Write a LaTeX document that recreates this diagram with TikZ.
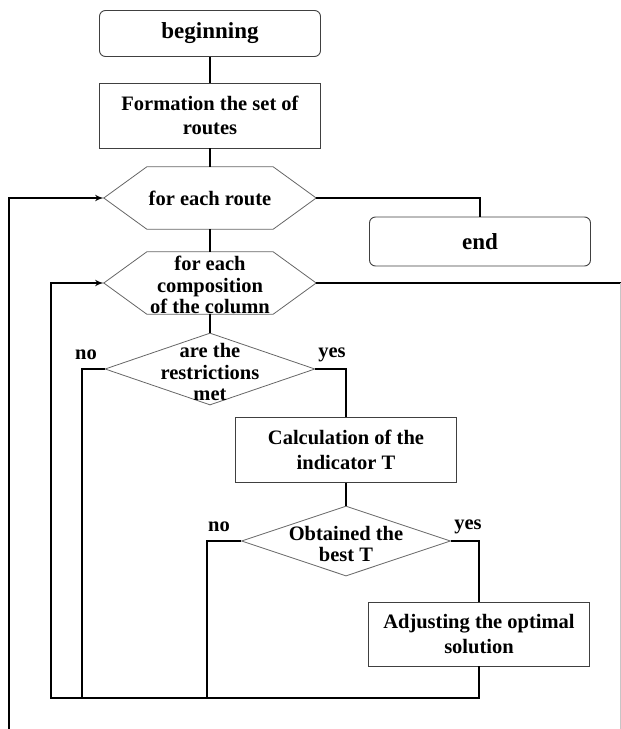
\documentclass[tikz,border=0pt]{standalone}
\usepackage{fontspec}
\setmainfont{Liberation Serif}
\usepackage{tikz}
\usetikzlibrary{shapes,arrows,positioning,calc}
\tikzset{
	block/.style = {draw=black!75, line width=0.9pt, fill=white, rectangle, minimum width=221pt, minimum height=65pt, inner sep=0pt, align=center, font=\fontsize{20.5}{24.5}\selectfont\bfseries},
	term/.style = {block, rounded corners=6pt, minimum height=46pt, font=\fontsize{23}{26}\selectfont\bfseries},
	hexa/.style = {rectangle, minimum width=212pt, minimum height=62pt, inner sep=0pt},
	decision/.style = {draw=black!60, line width=0.8pt, diamond, minimum width=210pt, minimum height=72pt, inner sep=0pt},
	txt/.style = {inner sep=0pt, align=center, font=\fontsize{20.5}{21.5}\selectfont\bfseries},
	shapeline/.style = {draw=black!60, line width=0.8pt},
	line/.style = {draw, line width=2pt}
}
\newcommand{\hexoutline}[1]{\draw[shapeline] (#1.west) -- ($(#1.north west)+(43,0)$) -- ($(#1.north east)+(-43,0)$) -- (#1.east) -- ($(#1.south east)+(-43,0)$) -- ($(#1.south west)+(43,0)$) -- cycle;}
\begin{document}
\begin{tikzpicture}[x=1pt, y=-1pt, >=latex', node distance=82pt]
\useasboundingbox (0,0) rectangle (621,729);
\node [term] at (210,33.5) (start) {beginning};
\node [block, below of=start] (form) {Formation the set of\\routes};
\node [hexa, below of=form, node distance=82.5pt] (route) {};
\hexoutline{route}
\node [txt] at (route) (routetxt) {for each route};
\node [hexa, below of=route, node distance=85pt] (column) {};
\hexoutline{column}
\node [txt] at ($(column)+(0,2)$) (columntxt) {for each\\composition\\of the column};
\node [decision, below of=column, node distance=86pt] (check) {};
\node [txt] at ($(check)+(0,3)$) (checktxt) {are the\\restrictions\\met};
\node [block] at (346,450) (calc) {Calculation of the\\indicator T};
\node [decision, below of=calc, node distance=91pt, minimum width=209pt, minimum height=70pt] (best) {};
\node [txt] at ($(best)+(0,3)$) (besttxt) {Obtained the\\best T};
\node [block, minimum height=64pt] at (479,634) (adjust) {Adjusting the optimal\\solution};
\node [term, minimum height=49pt] at (480,241.5) (end) {end};

% yes / no labels
\node [txt] at (86,355) (nocheck) {no};
\node [txt] at (332,355) (yescheck) {yes};
\node [txt] at (219,527) (nobest) {no};
\node [txt] at (468,527) (yesbest) {yes};

\coordinate (colright) at (620.5,283);
\coordinate (rightend) at (620.5,729);
\coordinate (bottomleft) at (51,698);
\coordinate (nojoin1) at (82,698);
\coordinate (nojoin2) at (207,698);
\coordinate (outerend) at (9,729);

\draw [line] (start) -- (form);
\draw [line] (form) -- (route);
\draw [line] (route) -- (column);
\draw [line] (column) -- (check);
\draw [line] (route.east) -| (end.north);
\draw [line] (column.east) -- (colright);
\draw [gray!45, line width=0.6pt] (colright) -- (rightend);
\draw [line] (check.east) -| (calc.north);
\draw [line] (calc) -- (best);
\draw [line] (best.east) -| (adjust.north);
\draw [line, ->] (adjust.south) |- (bottomleft) |- (column.west);
\draw [line] (check.west) -| (nojoin1);
\draw [line] (best.west) -| (nojoin2);
\draw [line, ->] (outerend) |- (route.west);
\end{tikzpicture}
\end{document}
